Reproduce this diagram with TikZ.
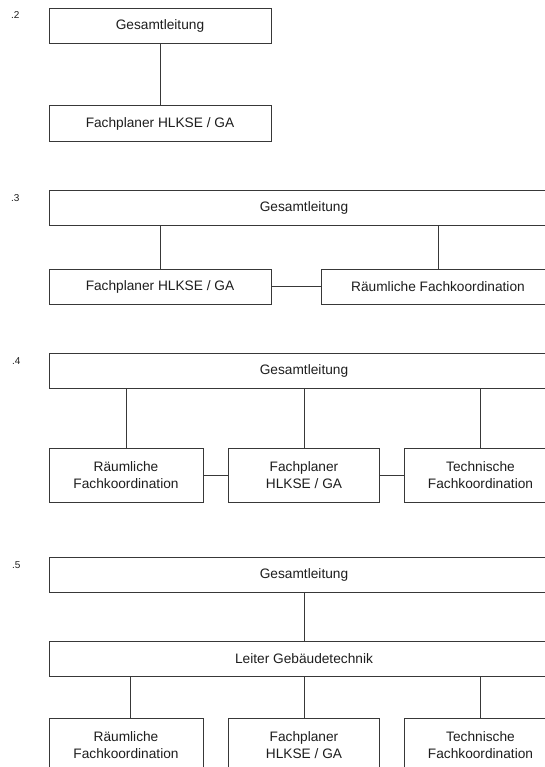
\documentclass[tikz,border=0pt]{standalone}
\usepackage{fontspec}
\setmainfont{Liberation Sans}
\begin{document}
\begin{tikzpicture}[x=1pt,y=-1pt,
  box/.style={draw=linec, line width=0.9pt, rectangle, inner sep=0pt, align=center,
    text=textc, font=\fontsize{13.7}{16.5}\selectfont},
  conn/.style={draw=linec, line width=0.9pt},
  lbl/.style={anchor=base west, inner sep=0pt, text=textc, font=\fontsize{10}{11}\selectfont}]
\definecolor{linec}{HTML}{383838}
\definecolor{textc}{HTML}{1E1E1E}
\useasboundingbox (0,0) rectangle (545,767);
\clip (0,0) rectangle (545,767);
\fill[white] (0,0) rectangle (545,767);

% .2
\node[lbl] (l2) at (11,18.5) {.2};
\node[box, minimum width=222, minimum height=35] (G2) at (160,25.8) {Gesamtleitung};
\node[box, minimum width=222, minimum height=36] (F2) at (160,123.5) {Fachplaner HLKSE / GA};
\draw[conn] (G2) -- (F2);

% .3
\node[lbl] (l3) at (11,201.5) {.3};
\node[box, minimum width=510, minimum height=35] (G3) at (304,208.3) {Gesamtleitung};
\node[box, minimum width=222, minimum height=35] (F3) at (160,286.5) {Fachplaner HLKSE / GA};
\node[box, minimum width=234, minimum height=35] (R3) at (438,286.5) {Räumliche Fachkoordination};
\draw[conn] (F3.north) -- (F3.north |- G3.south);
\draw[conn] (R3.north) -- (R3.north |- G3.south);
\draw[conn] (F3) -- (R3);

% .4
\node[lbl] (l4) at (12,364) {.4};
\node[box, minimum width=510, minimum height=35] (G4) at (304,370.8) {Gesamtleitung};
\node[box, minimum width=154, minimum height=54] (R4) at (126,475) {Räumliche\\Fachkoordination};
\node[box, minimum width=151, minimum height=54] (F4) at (304,475) {Fachplaner\\HLKSE / GA};
\node[box, minimum width=153, minimum height=54] (T4) at (480.5,475) {Technische\\Fachkoordination};
\draw[conn] (R4.north) -- (R4.north |- G4.south);
\draw[conn] (F4.north) -- (F4.north |- G4.south);
\draw[conn] (T4.north) -- (T4.north |- G4.south);
\draw[conn] (R4) -- (F4);
\draw[conn] (F4) -- (T4);

% .5
\node[lbl] (l5) at (12,568) {.5};
\node[box, minimum width=510, minimum height=35] (G5) at (304,574.5) {Gesamtleitung};
\node[box, minimum width=510, minimum height=35] (L5) at (304,658.5) {Leiter Gebäudetechnik};
\node[box, minimum width=154, minimum height=54] (R5) at (126,745) {Räumliche\\Fachkoordination};
\node[box, minimum width=151, minimum height=54] (F5) at (304,745) {Fachplaner\\HLKSE / GA};
\node[box, minimum width=153, minimum height=54] (T5) at (480.5,745) {Technische\\Fachkoordination};
\draw[conn] (G5) -- (L5);
\draw[conn] ([xshift=4]R5.north) -- ([xshift=4]R5.north |- L5.south);
\draw[conn] (F5.north) -- (F5.north |- L5.south);
\draw[conn] (T5.north) -- (T5.north |- L5.south);
\end{tikzpicture}
\end{document}
